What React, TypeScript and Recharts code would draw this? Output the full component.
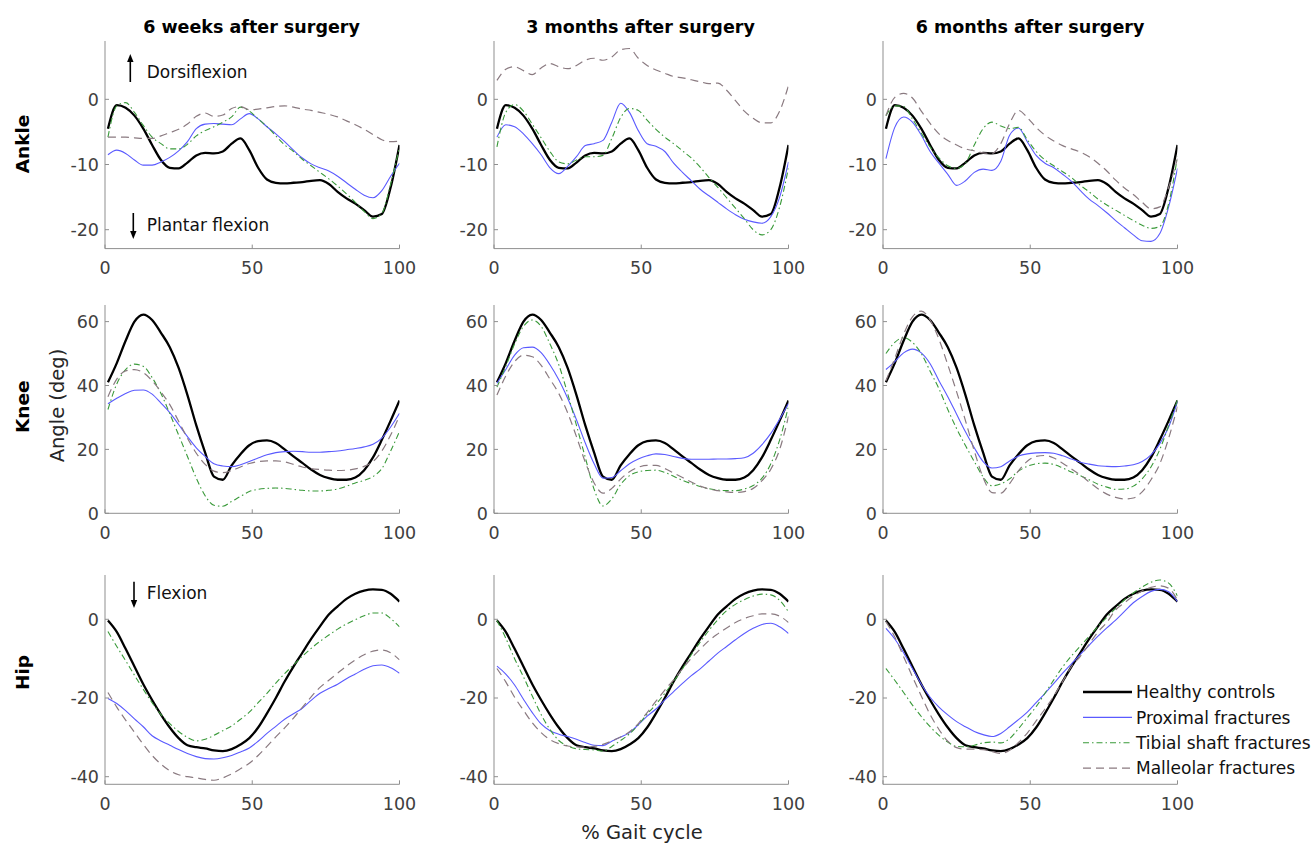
import React from 'react';
import { LineChart, Line, XAxis, YAxis, Legend } from 'recharts';

const FONT = "'DejaVu Sans', sans-serif";
const AXIS = '#8f8f8f';
const TICK_TEXT = '#404040';

// ---- categories / labels ----
const columnTitles = ['6 weeks after surgery', '3 months after surgery', '6 months after surgery'];
const jointNames = ['Ankle', 'Knee', 'Hip'];
const seriesNames = ['Healthy controls', 'Proximal fractures', 'Tibial shaft fractures', 'Malleolar fractures'];
const xTicks = [0, 50, 100];
const ankleTicks = [-20, -10, 0];
const kneeTicks = [0, 20, 40, 60];
const hipTicks = [-40, -20, 0];

// ---- x values (% gait cycle) ----
const gaitCycle = [1, 4, 7, 10, 13, 16, 19, 22, 25, 28, 31, 34, 37, 40, 43, 46, 49, 52, 55, 58, 61, 64, 67, 70, 73, 76, 79, 82, 85, 88, 91, 94, 97, 100];

// ---- Ankle ----
const ankleHealthy = [-4.5, -0.9, -1.3, -2.5, -4.5, -7.0, -9.3, -10.5, -10.6, -9.7, -8.6, -8.2, -8.3, -8.0, -6.8, -6.0, -7.8, -10.5, -12.3, -12.8, -12.9, -12.8, -12.7, -12.5, -12.4, -13.0, -14.2, -15.2, -16.0, -17.0, -18.0, -17.6, -13.5, -7.0];
const ankle6wProximal = [-8.5, -7.8, -8.3, -9.3, -10.1, -10.1, -9.6, -8.9, -7.9, -6.5, -4.5, -3.8, -3.7, -3.8, -3.9, -3.0, -2.2, -3.0, -4.2, -5.3, -6.5, -7.8, -9.0, -9.9, -10.5, -11.0, -11.8, -12.8, -13.8, -14.7, -15.1, -14.0, -11.8, -9.8];
const ankle6wTibial = [-5.8, -1.0, -0.5, -2.0, -4.0, -5.8, -6.8, -7.6, -7.6, -6.9, -5.6, -4.8, -4.2, -3.5, -2.7, -1.2, -1.8, -3.0, -4.2, -5.6, -7.0, -8.0, -9.2, -10.2, -11.2, -12.2, -13.3, -14.5, -15.8, -17.2, -18.3, -17.5, -13.0, -7.3];
const ankle6wMalleolar = [-5.8, -5.8, -5.8, -5.9, -6.0, -6.0, -5.6, -5.1, -4.6, -3.8, -2.6, -2.1, -2.6, -2.4, -1.4, -1.1, -1.6, -1.5, -1.3, -1.1, -1.0, -1.2, -1.5, -1.7, -2.0, -2.3, -2.7, -3.3, -3.9, -4.6, -5.4, -6.2, -6.5, -6.4];
const ankle3mProximal = [-5.8, -3.9, -4.2, -5.3, -6.8, -8.5, -10.5, -11.4, -10.3, -8.8, -7.1, -6.8, -6.3, -3.5, -0.6, -2.0, -4.8, -6.8, -7.2, -8.0, -9.8, -11.2, -12.5, -13.8, -14.8, -15.8, -16.8, -17.7, -18.4, -18.8, -19.0, -18.0, -15.0, -9.6];
const ankle3mTibial = [-7.3, -2.0, -0.8, -1.8, -3.8, -5.9, -8.0, -9.6, -9.9, -9.3, -8.8, -8.8, -8.6, -6.0, -2.8, -1.4, -1.7, -3.2, -4.6, -5.8, -6.8, -7.9, -9.0, -10.4, -12.0, -13.5, -15.1, -16.7, -18.3, -20.0, -20.8, -20.0, -16.5, -10.5];
const ankle3mMalleolar = [2.9, 4.6, 5.0, 4.4, 3.8, 4.8, 5.5, 5.0, 4.7, 5.2, 6.0, 6.3, 6.0, 6.5, 7.6, 7.8, 6.3, 5.2, 4.5, 4.0, 3.5, 3.3, 3.0, 2.7, 2.4, 2.5, 1.4, -0.2, -1.8, -2.9, -3.6, -3.6, -1.8, 2.1];
const ankle6mProximal = [-9.1, -4.3, -2.7, -3.5, -5.5, -8.0, -9.8, -11.5, -13.2, -12.5, -11.2, -10.7, -10.9, -9.5, -5.5, -4.4, -6.5, -8.6, -9.8, -10.5, -11.5, -12.6, -14.0, -15.3, -16.3, -17.4, -18.6, -19.7, -20.8, -21.7, -21.8, -20.6, -16.5, -10.6];
const ankle6mTibial = [-2.5, -1.0, -1.1, -3.0, -5.2, -7.3, -9.0, -10.2, -10.6, -9.8, -7.0, -4.5, -3.5, -4.1, -4.5, -4.3, -6.2, -8.0, -9.3, -10.2, -11.1, -12.0, -13.2, -14.2, -15.3, -16.2, -17.0, -17.8, -18.6, -19.3, -19.8, -19.5, -16.0, -8.8];
const ankle6mMalleolar = [-2.5, 0.3, 0.9, 0.2, -1.8, -3.7, -5.3, -6.3, -7.0, -7.6, -7.9, -8.2, -8.3, -6.8, -3.7, -1.7, -2.8, -4.3, -5.5, -6.4, -7.1, -7.6, -8.1, -8.8, -9.8, -11.0, -12.4, -13.6, -14.6, -15.8, -16.8, -16.5, -13.5, -9.1];

// ---- Knee ----
const kneeHealthy = [41, 47, 54, 60, 62.2, 60.5, 56.5, 52, 45.5, 37, 27.5, 19, 11.5, 10.5, 15.0, 18.5, 21.3, 22.6, 22.8, 22.0, 20.0, 17.8, 15.8, 13.7, 12.0, 11.0, 10.5, 10.5, 11.2, 13.5, 17.5, 23.0, 29.0, 35.3];
const knee6wProximal = [34.3, 36, 37.5, 38.5, 38.6, 37.3, 34.5, 31.5, 27.8, 24, 20.5, 17.8, 15.5, 14.8, 14.6, 15.2, 16.2, 17.3, 18.3, 19.0, 19.3, 19.4, 19.3, 19.1, 19.1, 19.3, 19.5, 19.9, 20.3, 20.8, 21.6, 23.5, 27.0, 31.3];
const knee6wTibial = [32.5, 40.5, 45, 46.7, 46, 42.5, 37.5, 31.2, 24.5, 17.8, 11, 5.5, 2.5, 2.2, 3.7, 5.3, 6.8, 7.5, 7.8, 7.9, 7.8, 7.5, 7.2, 7.0, 7.0, 7.2, 7.6, 8.5, 9.5, 10.3, 11.5, 14.0, 19.5, 25.6];
const knee6wMalleolar = [36.5, 42, 44.6, 45, 44, 41.5, 38, 34, 28.8, 23.5, 18.8, 15.3, 13.2, 12.7, 13.4, 14.5, 15.6, 16.2, 16.4, 16.4, 16.1, 15.3, 14.5, 14.0, 13.7, 13.5, 13.4, 13.5, 13.9, 14.7, 16.2, 19.5, 24.5, 30.5];
const knee3mProximal = [40.7, 45, 49.5, 51.8, 52, 50.3, 46.5, 41.8, 36, 29.3, 22, 15.5, 11, 11.2, 13.3, 15.5, 17, 18, 18.6, 18.4, 17.8, 17.2, 16.9, 16.9, 16.9, 17.0, 17.0, 17.1, 17.4, 18.8, 21.5, 25, 29.5, 34.4];
const knee3mTibial = [39.5, 46, 53, 58.5, 60.5, 58.5, 53, 46.5, 37.5, 27.5, 17.5, 7.5, 2.3, 4.5, 9, 11.8, 13, 13.4, 13.5, 12.8, 11.6, 10.3, 9.3, 8.4, 7.7, 7.3, 7.1, 7.1, 7.6, 8.7, 11.0, 15.5, 23, 33.5];
const knee3mMalleolar = [37, 43, 47.5, 49.5, 49, 46.3, 42, 37.5, 31.5, 24, 16, 9.5, 6.3, 7.8, 10.7, 13, 14.4, 15.0, 15.0, 14.0, 12.6, 11.2, 9.8, 8.5, 7.6, 7.1, 6.7, 6.5, 6.8, 7.8, 10.2, 13.8, 20, 30.3];
const knee6mProximal = [45, 47.5, 50.2, 51.4, 50.2, 46.8, 41.5, 36.5, 31, 25.5, 20.5, 16.2, 14.2, 14.6, 16.4, 17.9, 18.6, 18.9, 19.0, 18.8, 18.0, 17.0, 16.0, 15.4, 14.9, 14.7, 14.6, 14.8, 15.2, 16.2, 18.3, 21.8, 27, 35];
const knee6mTibial = [50, 53.5, 55, 53.5, 50, 44.5, 39, 32.5, 26.5, 21.2, 16.2, 11.4, 8.6, 9.2, 10.8, 13.2, 14.7, 15.5, 15.7, 15.3, 14.2, 12.9, 11.8, 10.5, 9.1, 8.2, 7.5, 7.6, 8.5, 10.8, 14.5, 20, 27.5, 35.5];
const knee6mMalleolar = [41.5, 48.5, 56, 61.5, 63.3, 60.5, 54.5, 46.5, 38, 29, 19.5, 11.2, 6.5, 6.3, 9.3, 13.3, 16.3, 17.8, 18.1, 17.3, 15.7, 13.9, 12.0, 9.8, 7.7, 6.0, 5.0, 4.5, 4.8, 6.7, 10.5, 15.5, 23.5, 33.4];

// ---- Hip ----
const hipHealthy = [-0.3, -3.2, -7.5, -12, -16.5, -20.5, -24.2, -27.5, -30.2, -32.0, -32.5, -32.8, -33.3, -33.5, -33.0, -31.8, -30.2, -27.5, -23.9, -20.0, -15.8, -12.0, -8.5, -5.0, -1.8, 1.2, 3.3, 5.2, 6.5, 7.3, 7.6, 7.5, 6.5, 4.5];
const hip6wProximal = [-20.1, -21.4, -23.2, -25.3, -27.3, -29.6, -30.9, -32.0, -33.1, -34.1, -34.9, -35.4, -35.5, -35.2, -34.6, -33.7, -32.7, -31.0, -29.0, -27.2, -25.4, -24.0, -22.6, -20.6, -18.8, -17.6, -16.5, -15.1, -13.9, -12.7, -11.8, -11.6, -12.3, -13.7];
const hip6wTibial = [-3.1, -6.9, -10.5, -14.2, -17.8, -21.2, -24.2, -26.5, -28.5, -30.0, -30.9, -30.5, -29.5, -28.3, -27.1, -25.4, -23.6, -21.2, -18.8, -16.2, -13.8, -11.6, -9.4, -7.4, -5.6, -4.0, -2.5, -1.2, -0.1, 0.9, 1.6, 1.6, 0.2, -1.9];
const hip6wMalleolar = [-18.6, -22.3, -25.6, -28.7, -31.8, -34.6, -36.8, -38.5, -39.5, -40.0, -40.3, -40.7, -40.9, -40.3, -39.3, -38.0, -36.6, -34.6, -32.3, -29.9, -27.6, -25.1, -22.4, -19.7, -17.3, -15.5, -13.7, -11.9, -10.3, -9.0, -8.1, -7.8, -8.5, -10.3];
const hip3mProximal = [-11.9, -13.9, -16.7, -20.3, -23.7, -26.6, -28.3, -29.2, -29.8, -30.5, -31.3, -32.0, -32.1, -31.0, -29.9, -28.8, -26.8, -24.6, -22.8, -20.5, -18.4, -16.3, -14.3, -12.6, -10.6, -8.6, -6.9, -5.2, -3.6, -2.3, -1.3, -1.0, -1.9, -3.6];
const hip3mTibial = [-0.3, -4.8, -10.0, -14.6, -19.5, -24.2, -28.0, -30.8, -32.2, -32.9, -33.1, -33.2, -33.5, -32.3, -30.8, -29.1, -26.8, -24.1, -21.6, -18.8, -15.8, -12.6, -9.0, -5.8, -2.8, -0.1, 2.2, 3.8, 5.0, 5.9, 6.4, 6.2, 4.8, 1.9];
const hip3mMalleolar = [-12.5, -15.9, -19.8, -23.1, -26.3, -28.8, -30.6, -31.6, -32.2, -32.4, -32.5, -32.3, -31.8, -30.9, -29.9, -28.6, -26.5, -23.7, -20.8, -18.0, -15.4, -12.6, -9.9, -7.6, -5.4, -3.7, -2.2, -0.8, 0.2, 0.9, 1.4, 1.4, 0.8, -0.8];
const hip6mProximal = [-2.3, -5.0, -8.5, -12.5, -16.5, -19.8, -22.3, -24.3, -26.0, -27.3, -28.5, -29.3, -29.8, -29.0, -27.3, -25.5, -23.6, -21.2, -18.8, -16.3, -13.7, -11.3, -8.9, -6.6, -4.3, -2.2, -0.2, 2.0, 4.2, 5.8, 7.1, 7.6, 7.0, 4.5];
const hip6mTibial = [-12.5, -15.5, -18.6, -21.8, -24.7, -27.3, -29.5, -31.2, -32.3, -32.4, -32.0, -31.4, -31.2, -31.4, -30.3, -27.8, -25.0, -22.2, -18.8, -15.4, -12.1, -9.3, -6.8, -4.3, -1.8, 0.5, 2.8, 4.9, 6.7, 8.2, 9.4, 10.0, 9.2, 5.9];
const hip6mMalleolar = [-0.6, -4.5, -9.5, -14.6, -19.5, -24.2, -28.0, -31.0, -32.6, -33.0, -33.0, -33.1, -33.6, -34.1, -33.3, -31.3, -28.9, -25.8, -22.8, -19.5, -15.8, -12.0, -9.4, -6.3, -3.2, -0.8, 2.4, 4.2, 5.9, 7.2, 8.1, 8.5, 7.9, 4.9];

// ---- styles ----
const SERIES = [
  { key: 'healthy', color: '#000000', width: 2.3, dash: undefined as string | undefined },
  { key: 'proximal', color: '#5a5aff', width: 1.1, dash: undefined as string | undefined },
  { key: 'tibial', color: '#3a9a3a', width: 1.1, dash: '6 3 1.5 3' },
  { key: 'malleolar', color: '#8a7a80', width: 1.2, dash: '8 5' },
];

const panelSeries: number[][][][] = [
  [
    [ankleHealthy, ankle6wProximal, ankle6wTibial, ankle6wMalleolar],
    [ankleHealthy, ankle3mProximal, ankle3mTibial, ankle3mMalleolar],
    [ankleHealthy, ankle6mProximal, ankle6mTibial, ankle6mMalleolar],
  ],
  [
    [kneeHealthy, knee6wProximal, knee6wTibial, knee6wMalleolar],
    [kneeHealthy, knee3mProximal, knee3mTibial, knee3mMalleolar],
    [kneeHealthy, knee6mProximal, knee6mTibial, knee6mMalleolar],
  ],
  [
    [hipHealthy, hip6wProximal, hip6wTibial, hip6wMalleolar],
    [hipHealthy, hip3mProximal, hip3mTibial, hip3mMalleolar],
    [hipHealthy, hip6mProximal, hip6mTibial, hip6mMalleolar],
  ],
];

const COL_LEFT = [105.3, 493.7, 883.3];
const PLOT_W = 294.5;
const ROWS = [
  { top: 40.7, h: 207.6, domain: [-22.9, 8.95], ticks: ankleTicks },
  { top: 305, h: 208.3, domain: [0, 65.2], ticks: kneeTicks },
  { top: 575, h: 209.3, domain: [-41.93, 11.26], ticks: hipTicks },
];
const YW = 50;
const MT = 10;
const XH = 40;
const X_TM = 13;
const Y_TM = 6;

const XTick = (props: any) => {
  const { x, y, payload } = props;
  const ay = y - X_TM;
  return (
    <g>
      <line x1={x} x2={x} y1={ay} y2={ay - 4} stroke={AXIS} strokeWidth={1} />
      <text x={x} y={y} dy="0.72em" textAnchor="middle" fontSize={17.5} fill={TICK_TEXT} fontFamily={FONT}>
        {payload.value}
      </text>
    </g>
  );
};

const YTick = (props: any) => {
  const { x, y, payload } = props;
  const ax = x + Y_TM;
  return (
    <g>
      <line x1={ax} x2={ax + 4} y1={y} y2={y} stroke={AXIS} strokeWidth={1} />
      <text x={x} y={y} dy="0.36em" textAnchor="end" fontSize={17.5} fill={TICK_TEXT} fontFamily={FONT}>
        {payload.value}
      </text>
    </g>
  );
};

const LegendContent = () => (
  <svg width={230} height={100} style={{ overflow: 'visible' }}>
    {seriesNames.map((name, i) => {
      const s = SERIES[i];
      const cy = 12 + i * 25.4;
      return (
        <g key={name}>
          <line x1={3} x2={52} y1={cy} y2={cy} stroke={s.color} strokeWidth={s.width} strokeDasharray={s.dash} />
          <text x={56} y={cy} dy="0.36em" fontSize={17} fill="#111" fontFamily={FONT}>
            {name}
          </text>
        </g>
      );
    })}
  </svg>
);

function Panel({ row, col }: { row: number; col: number }) {
  const r = ROWS[row];
  const left = COL_LEFT[col] - YW;
  const top = r.top - MT;
  const isLegend = row === 2 && col === 2;
  const mr = isLegend ? 150 : 30;
  const width = YW + PLOT_W + mr;
  const height = MT + r.h + XH;
  const s = panelSeries[row][col];
  const data = gaitCycle.map((pct, i) => ({
    pct,
    healthy: s[0][i],
    proximal: s[1][i],
    tibial: s[2][i],
    malleolar: s[3][i],
  }));
  return (
    <div style={{ position: 'absolute', left, top }}>
      <LineChart width={width} height={height} data={data} margin={{ top: MT, right: mr, bottom: 0, left: 0 }} style={{ overflow: 'visible' }}>
        <XAxis
          dataKey="pct"
          type="number"
          domain={[0, 100]}
          ticks={xTicks}
          interval={0}
          height={XH}
          tickSize={0}
          tickMargin={X_TM}
          tickLine={false}
          axisLine={{ stroke: AXIS, strokeWidth: 1 }}
          tick={XTick}
          allowDataOverflow
        />
        <YAxis
          type="number"
          domain={r.domain}
          ticks={r.ticks}
          interval={0}
          width={YW}
          tickSize={0}
          tickMargin={Y_TM}
          tickLine={false}
          axisLine={{ stroke: AXIS, strokeWidth: 1 }}
          tick={YTick}
          allowDataOverflow
        />
        {SERIES.map((se, i) => (
          <Line
            key={se.key}
            dataKey={se.key}
            name={seriesNames[i]}
            type="monotone"
            stroke={se.color}
            strokeWidth={se.width}
            strokeDasharray={se.dash}
            dot={false}
            activeDot={false}
            isAnimationActive={false}
          />
        ))}
        {isLegend && (
          <Legend
            layout="vertical"
            align="center"
            verticalAlign="middle"
            wrapperStyle={{ left: 1080 - left, top: 680 - top, width: 230, height: 100 }}
            content={LegendContent}
          />
        )}
      </LineChart>
    </div>
  );
}

const Arrow = ({ x, y1, y2 }: { x: number; y1: number; y2: number }) => {
  // y2 is tip
  const dir = y2 < y1 ? -1 : 1;
  const base = y2 - dir * 8;
  return (
    <g>
      <line x1={x} x2={x} y1={y1} y2={base} stroke="#000" strokeWidth={1.6} />
      <polygon points={`${x},${y2} ${x - 3.2},${base} ${x + 3.2},${base}`} fill="#000" />
    </g>
  );
};

export default function App() {
  const colCenters = [251.5, 640.5, 1030];
  return (
    <div style={{ position: 'absolute', left: 0, top: 0, width: 1312, height: 843, background: '#fff', overflow: 'hidden' }}>
      {[0, 1, 2].map((row) => [0, 1, 2].map((col) => <Panel key={`${row}-${col}`} row={row} col={col} />))}
      <svg width={1312} height={843} style={{ position: 'absolute', left: 0, top: 0, pointerEvents: 'none' }}>
        {columnTitles.map((t, i) => (
          <text key={t} x={colCenters[i]} y={33} textAnchor="middle" fontSize={17.5} fontWeight="bold" fill="#000" fontFamily={FONT}>
            {t}
          </text>
        ))}
        <text transform="translate(29.3,144) rotate(-90)" textAnchor="middle" fontSize={18.5} fontWeight="bold" fill="#000" fontFamily={FONT}>
          {jointNames[0]}
        </text>
        <text transform="translate(28.5,406.7) rotate(-90)" textAnchor="middle" fontSize={18.5} fontWeight="bold" fill="#000" fontFamily={FONT}>
          {jointNames[1]}
        </text>
        <text transform="translate(64,405.5) rotate(-90)" textAnchor="middle" fontSize={19.5} fill="#262626" fontFamily={FONT}>
          Angle (deg)
        </text>
        <text transform="translate(29,672.5) rotate(-90)" textAnchor="middle" fontSize={18.5} fontWeight="bold" fill="#000" fontFamily={FONT}>
          {jointNames[2]}
        </text>
        <text x={642} y={839} textAnchor="middle" fontSize={19.5} fill="#262626" fontFamily={FONT}>
          % Gait cycle
        </text>
        <Arrow x={130.3} y1={82} y2={54} />
        <text x={146.7} y={77.5} fontSize={17} fill="#111" fontFamily={FONT}>Dorsiflexion</text>
        <Arrow x={133.3} y1={213} y2={239} />
        <text x={146.7} y={231} fontSize={17} fill="#111" fontFamily={FONT}>Plantar flexion</text>
        <Arrow x={134} y1={581.7} y2={608} />
        <text x={146.7} y={599.3} fontSize={17} fill="#111" fontFamily={FONT}>Flexion</text>
      </svg>
    </div>
  );
}
